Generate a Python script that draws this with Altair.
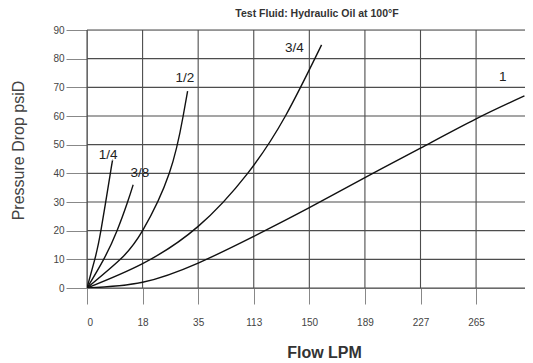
import json
import altair as alt
import pandas as pd

# Flow axis: evenly spaced grid positions carrying these labels (LPM)
tick_labels = ["0", "18", "35", "113", "150", "189", "227", "265"]
y_ticks = [0, 10, 20, 30, 40, 50, 60, 70, 80, 90]

sizes = ["1/4", "3/8", "1/2", "3/4", "1"]

# curve points: x in grid-position units, y = pressure drop (psiD)
x_quarter = [0, 0.14, 0.25, 0.42, 0.46]
y_quarter = [0, 10, 20, 40, 44.5]

x_three_eighth = [0, 0.30, 0.54, 0.73, 0.83]
y_three_eighth = [0, 10, 20, 30, 36]

x_half = [0, 0.6, 1.0, 1.48, 1.73, 1.81]
y_half = [0, 10, 20, 40, 60, 68.7]

x_three_quarter = [0, 1, 2, 2.89, 3.57, 4.22]
y_three_quarter = [0, 8.5, 21.5, 40, 60, 84.8]

x_one = [0, 1, 2, 3, 4, 5, 6, 7, 7.87]
y_one = [0, 2, 8.7, 18, 28, 38.5, 48.8, 59, 67]

# curve label anchors (data coordinates)
label_x = [0.38, 0.95, 1.76, 3.73, 7.48]
label_y = [46.5, 40.2, 73.1, 83.7, 73.6]

series = {
    "1/4": (x_quarter, y_quarter),
    "3/8": (x_three_eighth, y_three_eighth),
    "1/2": (x_half, y_half),
    "3/4": (x_three_quarter, y_three_quarter),
    "1": (x_one, y_one),
}
rows = []
for s, (xs, ys) in series.items():
    for i, (a, b) in enumerate(zip(xs, ys)):
        rows.append({"size": s, "x": a, "y": b, "order": i})
df = pd.DataFrame(rows)
labels_df = pd.DataFrame({"size": sizes, "x": label_x, "y": label_y})
vgrid_df = pd.DataFrame({"x": list(range(len(tick_labels)))})
hgrid_df = pd.DataFrame({"y": y_ticks})

FONT = "Liberation Sans"
GRID = "#4d4d4d"
label_expr = json.dumps(tick_labels) + "[datum.value]"

x_scale = alt.Scale(domain=[0, 7.88], nice=False, zero=False)
y_scale = alt.Scale(domain=[0, 90], nice=False)

x_axis = alt.Axis(
    values=list(range(len(tick_labels))),
    labelExpr=label_expr,
    grid=False,
    labelOverlap=False,
    title="Flow LPM",
    tickSize=16,
    labelPadding=13,
    labelFontSize=10,
    labelColor="#444",
    labelFont=FONT,
    titleFont=FONT,
    titleFontSize=16,
    titleFontWeight="bold",
    titleColor="#333",
    titleX=237,
    titleY=64,
    titleAlign="center",
    titleBaseline="middle",
)
y_axis = alt.Axis(
    values=y_ticks,
    grid=False,
    labelOverlap=False,
    title="Pressure Drop psiD",
    tickSize=21,
    labelPadding=2,
    labelFontSize=10,
    labelColor="#444",
    labelFont=FONT,
    titleFont=FONT,
    titleFontSize=16,
    titleFontWeight="normal",
    titleColor="#444",
    titleX=-69,
    titleY=120,
    titleAngle=270,
    titleAlign="center",
    titleBaseline="middle",
)

vgrid = alt.Chart(vgrid_df).mark_rule(color=GRID, strokeWidth=1.1).encode(
    x=alt.X("x:Q", scale=x_scale, axis=x_axis)
)
hgrid = alt.Chart(hgrid_df).mark_rule(color=GRID, strokeWidth=1.1).encode(
    y=alt.Y("y:Q", scale=y_scale, axis=y_axis)
)

lines = alt.Chart(df).mark_line(
    color="#111", strokeWidth=1.4, interpolate="natural", clip=True
).encode(
    x=alt.X("x:Q", scale=x_scale, axis=x_axis),
    y=alt.Y("y:Q", scale=y_scale, axis=y_axis),
    detail="size:N",
    order="order:Q",
)

texts = alt.Chart(labels_df).mark_text(
    fontSize=13.5, color="#222", font=FONT
).encode(
    x=alt.X("x:Q", scale=x_scale, axis=x_axis),
    y=alt.Y("y:Q", scale=y_scale, axis=y_axis),
    text="size:N",
)

chart = (
    alt.layer(vgrid, hgrid, lines, texts)
    .properties(
        width=438,
        height=258,
        padding={"left": 79, "top": 22, "right": 0, "bottom": 74},
        autosize="none",
        title=alt.TitleParams(
            text="Test Fluid: Hydraulic Oil at 100°F",
            fontSize=10.5,
            fontWeight="bold",
            color="#333",
            font=FONT,
            anchor="middle",
            dx=11,
            offset=6,
        ),
    )
    .configure_view(stroke=None)
    .configure_axis(
        tickColor=GRID,
        tickWidth=1.1,
        domainColor=GRID,
        domainWidth=1.1,
    )
    .configure(background="white")
)

chart.save("out.html", embed_options={"renderer": "svg", "actions": False})
